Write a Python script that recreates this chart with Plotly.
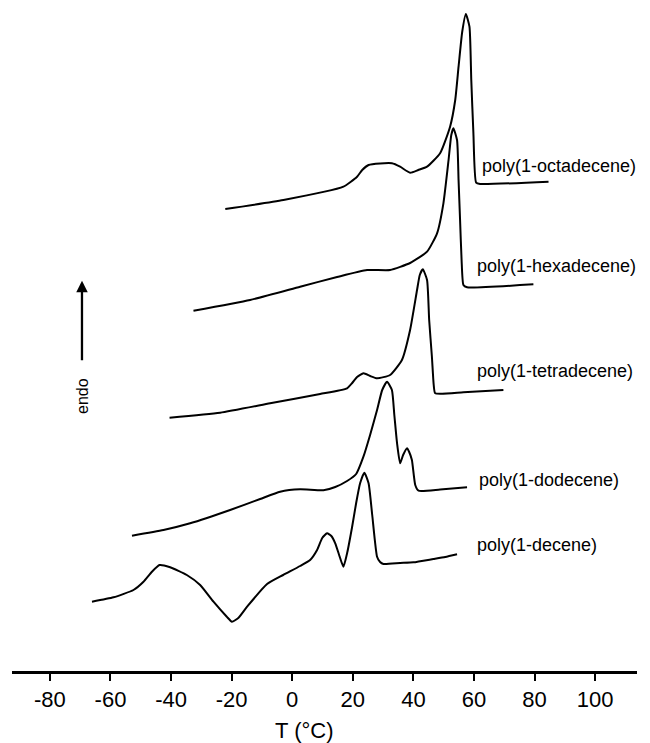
import plotly.graph_objects as go

# DSC traces (temperature in degC, heat flow in arbitrary offset units, endo up)
decene_T = [-66.1, -59.0, -52.4, -49.1, -46.3, -43.8, -40.3, -34.8, -30.4, -26.0, -21.6, -19.9,
            -17.8, -14.9, -8.3, -3.0, 2.6, 5.9, 8.2, 9.9, 11.5, 12.9, 14.2, 15.8, 16.9, 18.2,
            19.7, 21.1, 22.4, 23.8, 25.2, 26.4, 28.0, 29.0, 30.1, 35.6, 40.0, 46.6, 50.5, 54.4]
decene_Q = [69.3, 73.7, 81.0, 89.3, 99.3, 106.0, 103.7, 96.0, 86.0, 69.3, 54.3, 49.3,
            53.0, 64.3, 87.0, 96.0, 105.0, 111.0, 121.0, 133.0, 137.7, 135.0, 127.7, 113.0, 104.3, 119.0,
            143.0, 168.0, 187.7, 198.3, 187.7, 156.0, 114.3, 109.0, 107.0, 108.0, 108.7, 112.0, 114.0, 116.7]

dodecene_T = [-52.9, -42.5, -33.7, -20.5, -10.6, -4.0, 2.6, 10.3, 14.2, 18.1, 21.1, 23.5, 25.7,
              28.0, 29.7, 31.3, 32.9, 33.7, 34.6, 35.6, 36.6, 37.9, 38.6, 39.5, 40.6, 41.7, 48.8, 57.7]
dodecene_Q = [135.3, 141.0, 147.7, 161.0, 172.0, 179.3, 181.7, 180.7, 184.0, 190.0, 197.0, 214.3, 236.0,
              261.0, 281.0, 289.3, 281.0, 256.0, 227.7, 207.7, 216.0, 222.7, 219.0, 211.0, 186.0, 180.3, 181.5, 183.7]

tetradecene_T = [-40.5, -23.8, -7.3, 9.2, 18.1, 19.8, 21.4, 23.5, 25.7, 28.0, 32.3, 36.2, 38.9,
                 41.2, 42.1, 43.1, 44.5, 45.2, 46.1, 46.7, 47.2, 56.5, 69.7]
tetradecene_Q = [253.3, 258.3, 267.7, 277.0, 282.7, 288.0, 294.0, 297.7, 295.0, 292.7, 296.0, 311.0, 341.0,
                 381.0, 396.0, 401.7, 391.0, 351.0, 314.3, 286.0, 277.7, 278.7, 281.0]

hexadecene_T = [-32.6, -13.9, 2.6, 14.8, 24.7, 32.3, 38.9, 44.5, 47.8, 49.9, 51.6, 52.5, 53.2,
                54.4, 54.9, 55.4, 55.9, 56.5, 57.7, 79.6]
hexadecene_Q = [360.3, 371.0, 384.3, 394.0, 401.0, 401.0, 408.0, 419.3, 437.7, 467.7, 511.0, 536.0, 542.7,
                531.0, 491.0, 451.0, 411.0, 386.0, 383.7, 386.7]

octadecene_T = [-22.1, -2.9, 16.9, 21.4, 23.1, 25.2, 29.0, 32.9, 35.6, 38.9, 41.6, 44.5, 48.8,
                52.1, 53.8, 54.9, 56.1, 57.3, 58.5, 59.1, 59.8, 60.7, 62.0, 84.6]
octadecene_Q = [462.0, 471.0, 484.3, 494.3, 501.0, 506.0, 507.5, 507.7, 504.3, 498.3, 501.0, 504.3, 517.7,
                544.3, 571.0, 604.3, 639.0, 657.0, 644.3, 591.0, 537.7, 488.3, 487.0, 489.3]

series_names = ["poly(1-decene)", "poly(1-dodecene)", "poly(1-tetradecene)",
                "poly(1-hexadecene)", "poly(1-octadecene)"]
label_T = [60.4, 61.1, 60.4, 60.4, 62.0]
label_Q = [126, 191, 300, 405, 505]

tick_vals = [-80, -60, -40, -20, 0, 20, 40, 60, 80, 100]
tick_text = ["-80", "-60", "-40", "-20", "0", "20", "40", "60", "80", "100"]

FONT = "Liberation Sans, Arial, sans-serif"

fig = go.Figure()
all_T = [decene_T, dodecene_T, tetradecene_T, hexadecene_T, octadecene_T]
all_Q = [decene_Q, dodecene_Q, tetradecene_Q, hexadecene_Q, octadecene_Q]
for name, xs, ys in zip(series_names, all_T, all_Q):
    fig.add_trace(go.Scatter(x=xs, y=ys, mode="lines", name=name,
                             line=dict(color="black", width=2.0, shape="spline", smoothing=0.5),
                             showlegend=False, hoverinfo="skip"))

for name, lx, ly in zip(series_names, label_T, label_Q):
    fig.add_annotation(x=lx, y=ly, text=name, showarrow=False, xanchor="left", yanchor="middle",
                       font=dict(family=FONT, size=18, color="black"))

# endo arrow
fig.add_annotation(x=-69.4, y=390.3, ax=-69.4, ay=309.3, axref="x", ayref="y", xref="x", yref="y",
                   text="", showarrow=True, arrowhead=2, arrowsize=1.0, arrowwidth=2.3, arrowcolor="black")
fig.add_annotation(x=-69.4, y=275, text="endo", showarrow=False, textangle=-90,
                   font=dict(family=FONT, size=16, color="black"))

# axis title
fig.add_annotation(x=4, y=-0.089, xref="x", yref="paper", text="T (°C)", showarrow=False,
                   yanchor="middle", font=dict(family=FONT, size=22, color="black"))

# page body has an 8px default margin; figure sized so the plot sits where the reference's does
fig.update_layout(
    width=642, height=735,
    margin=dict(l=4, r=13, t=0, b=72, autoexpand=False),
    paper_bgcolor="white", plot_bgcolor="white",
    xaxis=dict(range=[-92.5, 113.8], showline=True, linewidth=3, linecolor="black",
               ticks="outside", ticklen=7, tickwidth=2, tickcolor="black",
               tickvals=tick_vals, ticktext=tick_text, showgrid=False, zeroline=False,
               tickfont=dict(family=FONT, size=22, color="black")),
    yaxis=dict(range=[0, 663], visible=False, showgrid=False, zeroline=False),
)

fig.write_html("out.html")
